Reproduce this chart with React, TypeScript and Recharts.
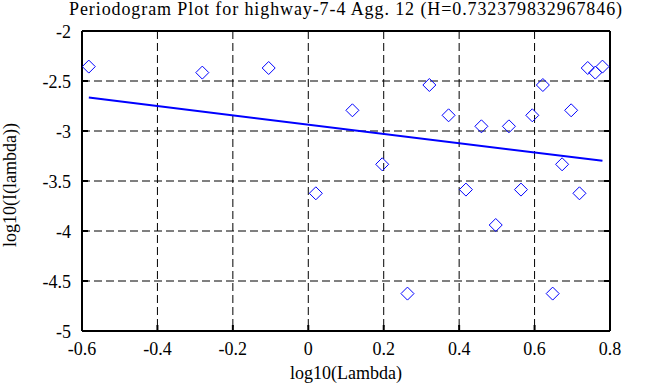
import React from 'react';
import { ScatterChart, Scatter, XAxis, YAxis, CartesianGrid, Label } from 'recharts';

const TITLE = 'Periodogram Plot for highway-7-4 Agg. 12 (H=0.732379832967846)';

// log10(frequency) and log10(periodogram)
const logLambda = [
  -0.582, -0.281, -0.105, 0.020, 0.117, 0.196, 0.263, 0.321, 0.372, 0.418, 0.459, 0.497,
  0.532, 0.564, 0.594, 0.622, 0.648, 0.673, 0.697, 0.719, 0.741, 0.761, 0.780,
];
const logI = [
  -2.356, -2.416, -2.37, -3.623, -2.793, -3.333, -4.626, -2.54, -2.843, -3.586, -2.953, -3.94,
  -2.953, -3.586, -2.843, -2.54, -4.626, -3.333, -2.793, -3.623, -2.37, -2.416, -2.356,
];

// least squares fit endpoints
const fitX = [-0.582, 0.780];
const fitY = [-2.666, -3.298];

const xTicks = [-0.6, -0.4, -0.2, 0, 0.2, 0.4, 0.6, 0.8];
const yTicks = [-5, -4.5, -4, -3.5, -3, -2.5, -2];

const points = logLambda.map((x, i) => ({ x, y: logI[i] }));
const fitLine = fitX.map((x, i) => ({ x, y: fitY[i] }));

const FONT = '"Liberation Serif", "DejaVu Serif", serif';
const BLUE = '#0000ff';

const Diamond = (props: any) => {
  const { cx, cy } = props;
  const r = 6.5;
  return (
    <polygon
      points={`${cx},${cy - r} ${cx + r},${cy} ${cx},${cy + r} ${cx - r},${cy}`}
      fill="none"
      stroke={BLUE}
      strokeWidth={1}
    />
  );
};

const XTick = (props: any) => (
  <text x={props.x} y={props.y} dy="0.71em" textAnchor="middle" fill="#000" fontSize={18} fontFamily={FONT}>
    {String(props.payload.value)}
  </text>
);

const YTick = (props: any) => (
  <text x={props.x} y={props.y} dy="0.4em" textAnchor="end" fill="#000" fontSize={18} fontFamily={FONT}>
    {String(props.payload.value)}
  </text>
);

const blank = () => '';

export default function App() {
  return (
    <div
      style={{
        position: 'absolute',
        left: 0,
        top: 0,
        width: 663,
        height: 387,
        background: '#fff',
        fontFamily: FONT,
      }}
    >
      <div
        style={{
          position: 'absolute',
          left: 0,
          width: 692,
          top: 0,
          textAlign: 'center',
          fontFamily: FONT,
          fontSize: 18,
          letterSpacing: '0.9px',
          lineHeight: '18px',
          color: '#000',
          whiteSpace: 'nowrap',
        }}
      >
        {TITLE}
      </div>
      <ScatterChart width={663} height={387} margin={{ top: 0, right: 0, bottom: 0, left: 0 }}>
        <CartesianGrid stroke="#000" strokeDasharray="8 4" strokeWidth={1} />
        <XAxis
          dataKey="x"
          type="number"
          domain={[-0.6, 0.8]}
          ticks={xTicks}
          allowDataOverflow
          height={56}
          axisLine={{ stroke: '#000', strokeWidth: 2 }}
          tickLine={{ stroke: '#000', strokeWidth: 2 }}
          tickSize={-6}
          tickMargin={17}
          tick={<XTick />}
        >
          <Label
            value="log10(Lambda)"
            position="insideBottom"
            offset={8}
            style={{ fill: '#000', fontSize: 18, fontFamily: FONT }}
          />
        </XAxis>
        <XAxis
          xAxisId="top"
          orientation="top"
          type="number"
          domain={[-0.6, 0.8]}
          ticks={xTicks}
          allowDataOverflow
          height={31}
          axisLine={{ stroke: '#000', strokeWidth: 2 }}
          tickLine={{ stroke: '#000', strokeWidth: 2 }}
          tickSize={-6}
          tickFormatter={blank}
        />
        <YAxis
          dataKey="y"
          type="number"
          domain={[-5, -2]}
          ticks={yTicks}
          allowDataOverflow
          width={82}
          axisLine={{ stroke: '#000', strokeWidth: 2 }}
          tickLine={{ stroke: '#000', strokeWidth: 2 }}
          tickSize={-6}
          tickMargin={17}
          tick={<YTick />}
        >
          <Label
            content={() => (
              <text
                x={10}
                y={185}
                transform="rotate(-90 10 185)"
                textAnchor="middle"
                dominantBaseline="central"
                fill="#000"
                fontSize={18}
                fontFamily={FONT}
              >
                log10(I(lambda))
              </text>
            )}
          />
        </YAxis>
        <YAxis
          yAxisId="right"
          orientation="right"
          type="number"
          domain={[-5, -2]}
          ticks={yTicks}
          allowDataOverflow
          width={53}
          axisLine={{ stroke: '#000', strokeWidth: 2 }}
          tickLine={{ stroke: '#000', strokeWidth: 2 }}
          tickSize={-6}
          tickFormatter={blank}
        />
        <Scatter data={points} shape={<Diamond />} isAnimationActive={false} />
        <Scatter
          data={fitLine}
          line={{ stroke: BLUE, strokeWidth: 2 }}
          shape={() => <g />}
          isAnimationActive={false}
        />
      </ScatterChart>
    </div>
  );
}
